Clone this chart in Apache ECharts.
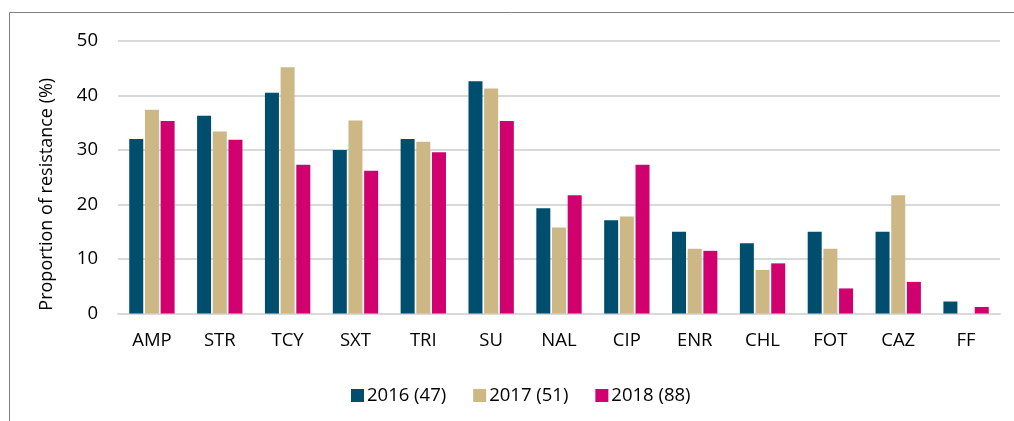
<!DOCTYPE html>
<html>
<head>
<meta charset="utf-8">
<script src="https://cdn.jsdelivr.net/npm/echarts@6/dist/echarts.min.js"></script>
<style>
  html, body { margin: 0; padding: 0; background: #fff; }
  #chart { width: 1014px; height: 421px; }
</style>
</head>
<body>
<div id="chart"></div>
<script>
const categories = ['AMP', 'STR', 'TCY', 'SXT', 'TRI', 'SU', 'NAL', 'CIP', 'ENR', 'CHL', 'FOT', 'CAZ', 'FF'];
const seriesNames = ['2016 (47)', '2017 (51)', '2018 (88)'];
const values2016 = [32.0, 36.3, 40.5, 30.0, 32.0, 42.6, 19.3, 17.1, 15.0, 12.9, 15.0, 15.0, 2.2];
const values2017 = [37.4, 33.4, 45.2, 35.4, 31.5, 41.3, 15.8, 17.8, 11.9, 8.0, 11.9, 21.7, 0];
const values2018 = [35.3, 31.9, 27.3, 26.2, 29.6, 35.3, 21.7, 27.3, 11.5, 9.2, 4.6, 5.8, 1.2];
const colors = ['#004e6e', '#cdb785', '#d1006f'];

const font = "'Open Sans', 'Noto Sans', sans-serif";
const chart = echarts.init(document.getElementById('chart'));

const option = {
    animation: false,
    textStyle: { fontFamily: font },
    graphic: [{
        type: 'polyline',
        shape: { points: [[9.5, 421], [9.5, 12.5], [1014, 12.5]] },
        style: { stroke: '#7f7f7f', lineWidth: 1, fill: null }
    }],
    grid: { left: 118, right: 14, top: 41, bottom: 107.5 },
    legend: {
        left: 346,
        top: 381,
        itemWidth: 13,
        itemHeight: 13,
        itemGap: 27,
        icon: 'rect',
        textStyle: { fontSize: 18.5, color: '#000', fontFamily: font, padding: [0, 0, 0, -2] },
        data: seriesNames
    },
    xAxis: {
        type: 'category',
        data: categories,
        axisLine: { lineStyle: { color: '#d9d9d9', width: 2 } },
        axisTick: { show: false },
        axisLabel: { fontSize: 18.5, color: '#000', margin: 18, fontFamily: font }
    },
    yAxis: {
        type: 'value',
        min: 0,
        max: 50,
        interval: 10,
        name: 'Proportion of resistance (%)',
        nameLocation: 'middle',
        nameGap: 62,
        nameTextStyle: { fontSize: 18, color: '#000', fontFamily: font, padding: [0, 34, 0, 0] },
        axisLine: { show: false },
        axisTick: { show: false },
        axisLabel: { fontSize: 18.5, color: '#000', margin: 20, fontFamily: font },
        splitLine: { lineStyle: { color: '#d9d9d9', width: 2 } }
    },
    series: [
        { name: seriesNames[0], type: 'bar', data: values2016, barWidth: 14, barGap: '12%', itemStyle: { color: colors[0] } },
        { name: seriesNames[1], type: 'bar', data: values2017, barWidth: 14, barGap: '12%', itemStyle: { color: colors[1] } },
        { name: seriesNames[2], type: 'bar', data: values2018, barWidth: 14, barGap: '12%', itemStyle: { color: colors[2] } }
    ]
};

chart.setOption(option);
</script>
</body>
</html>
